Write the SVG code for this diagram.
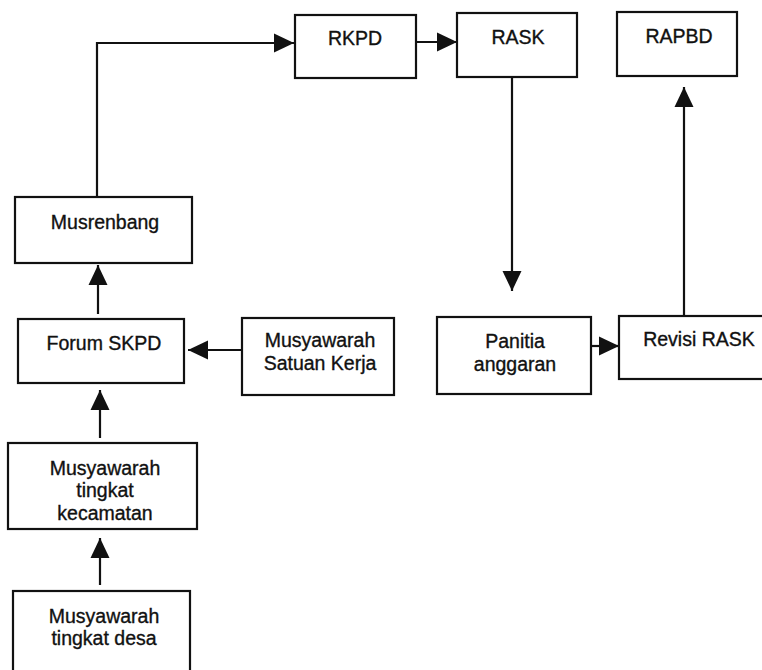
<svg xmlns="http://www.w3.org/2000/svg" width="762" height="670" viewBox="0 0 762 670">
  <style>
    .box { fill: #ffffff; stroke: #111111; stroke-width: 2.2; }
    .lbl { font-family: "Liberation Sans", Arial, sans-serif; font-size: 19.5px; fill: #111111; stroke: #111111; stroke-width: 0.35; text-anchor: middle; }
    .conn { fill: none; stroke: #111111; stroke-width: 2.2; marker-end: url(#arrow); }
  </style>
  <defs>
    <marker id="arrow" markerUnits="userSpaceOnUse" markerWidth="20" markerHeight="20" refX="20" refY="10" orient="auto">
      <path d="M0,0.5 L20,10 L0,19.5 Z" fill="#111111"/>
    </marker>
  </defs>
  <rect width="762" height="670" fill="#ffffff"/>

  <g id="connectors">
    <path class="conn" d="M97,197 V43 H294"/>
    <path class="conn" d="M413,42 H457"/>
    <path class="conn" d="M512,68 V291"/>
    <path class="conn" d="M587,346 H619"/>
    <path class="conn" d="M684,316 V87"/>
    <path class="conn" d="M98,314 V265"/>
    <path class="conn" d="M242,350 H188"/>
    <path class="conn" d="M100,438 V390"/>
    <path class="conn" d="M100,585 V538"/>
  </g>

  <g id="rkpd">
    <rect class="box" x="295" y="15" width="121" height="63"/>
    <text class="lbl" x="355" y="45">RKPD</text>
  </g>
  <g id="rask">
    <rect class="box" x="457" y="13" width="120" height="64"/>
    <text class="lbl" x="518" y="44">RASK</text>
  </g>
  <g id="rapbd">
    <rect class="box" x="617" y="12" width="120" height="64"/>
    <text class="lbl" x="679" y="43">RAPBD</text>
  </g>
  <g id="musrenbang">
    <rect class="box" x="15" y="197" width="177" height="66"/>
    <text class="lbl" x="105" y="229">Musrenbang</text>
  </g>
  <g id="forum-skpd">
    <rect class="box" x="18" y="319" width="166" height="64"/>
    <text class="lbl" x="104" y="350">Forum SKPD</text>
  </g>
  <g id="musyawarah-satuan-kerja">
    <rect class="box" x="242" y="318" width="152" height="77"/>
    <text class="lbl" x="320" y="347">Musyawarah</text>
    <text class="lbl" x="320" y="370">Satuan Kerja</text>
  </g>
  <g id="panitia-anggaran">
    <rect class="box" x="437" y="317" width="154" height="77"/>
    <text class="lbl" x="515" y="348">Panitia</text>
    <text class="lbl" x="515" y="371">anggaran</text>
  </g>
  <g id="revisi-rask">
    <rect class="box" x="619" y="316" width="156" height="63"/>
    <text class="lbl" x="699" y="346">Revisi RASK</text>
  </g>
  <g id="musyawarah-kecamatan">
    <rect class="box" x="8" y="443" width="189" height="86"/>
    <text class="lbl" x="105" y="475">Musyawarah</text>
    <text class="lbl" x="105" y="497">tingkat</text>
    <text class="lbl" x="105" y="520">kecamatan</text>
  </g>
  <g id="musyawarah-desa">
    <rect class="box" x="13" y="591" width="177" height="100"/>
    <text class="lbl" x="104" y="623">Musyawarah</text>
    <text class="lbl" x="104" y="645">tingkat desa</text>
  </g>
</svg>
